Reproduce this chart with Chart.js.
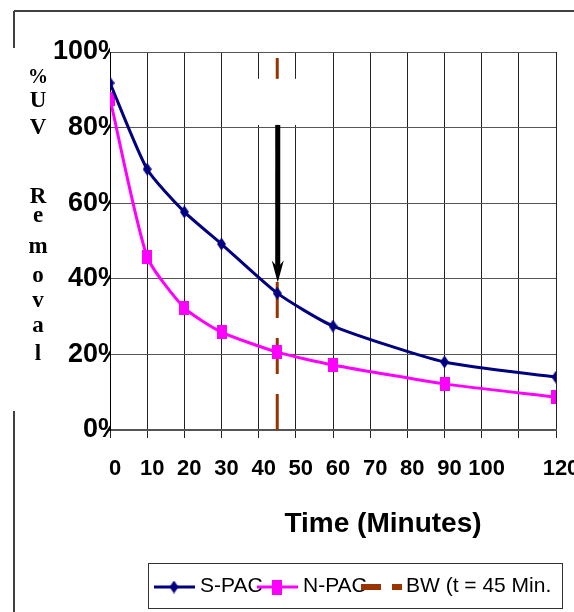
<!DOCTYPE html>
<html>
<head>
<meta charset="utf-8">
<script src="https://cdn.jsdelivr.net/npm/chart.js@4"></script>
<style>
  html, body { margin: 0; padding: 0; background: #fff; }
  canvas { display: block; }
</style>
</head>
<body>
<canvas id="chart" width="574" height="612"></canvas>
<script>
// values
const times = [0, 10, 20, 30, 45, 60, 90, 120];
const sPac = [91.8, 69.0, 57.7, 49.2, 36.2, 27.5, 18.0, 14.0];
const nPac = [87.6, 45.8, 32.3, 25.9, 20.6, 17.2, 12.2, 8.7];
const bwTime = 45;
const seriesNames = ['S-PAC', 'N-PAC', 'BW (t = 45 Min.'];
const xTickLabels = ['0', '10', '20', '30', '40', '50', '60', '70', '80', '90', '100', '', '120'];
const yTickLabels = ['0%', '20%', '40%', '60%', '80%', '100%'];
const xTitle = 'Time (Minutes)';
const yTitleLetters = ['%', 'U', 'V', 'R', 'e', 'm', 'o', 'v', 'a', 'l'];

const NAVY = '#000080', MAGENTA = '#ff00ff', BROWN = '#993300';
const SANS = '"Liberation Sans", Arial, sans-serif';
const SERIF = '"Liberation Serif", "Times New Roman", serif';

function marker(shape, w, h, color) {
  const c = document.createElement('canvas');
  c.width = w; c.height = h;
  const g = c.getContext('2d');
  g.fillStyle = color;
  if (shape === 'diamond') {
    g.beginPath();
    g.moveTo(w / 2, 0); g.lineTo(w, h / 2); g.lineTo(w / 2, h); g.lineTo(0, h / 2);
    g.closePath(); g.fill();
  } else {
    g.fillRect(0, 0, w, h);
  }
  return c;
}
const diamond = marker('diamond', 9, 13, NAVY);
const square = marker('square', 10, 14, MAGENTA);

const pairs = (ys) => times.map((t, i) => ({ x: t, y: ys[i] }));

// white label box + arrow pointing down at t = 45 (data units)
const noteBox = { x0: 39.8, x1: 50.3, y0: 80.7, y1: 92.9 };
const arrowTo = 39;

const extras = {
  id: 'extras',
  beforeDraw(chart) {
    const ctx = chart.ctx;
    ctx.save();
    ctx.fillStyle = '#fff';
    ctx.fillRect(0, 0, chart.width, chart.height);
    ctx.strokeStyle = '#404040';
    ctx.lineWidth = 2;
    ctx.beginPath();
    ctx.moveTo(14, 11); ctx.lineTo(574, 11);
    ctx.moveTo(14, 11); ctx.lineTo(14, 48);
    ctx.moveTo(14, 411); ctx.lineTo(14, 612);
    ctx.stroke();
    ctx.restore();
  },
  afterDatasetsDraw(chart) {
    const ctx = chart.ctx, x = chart.scales.x, y = chart.scales.y;
    ctx.save();
    ctx.fillStyle = '#fff';
    const bx0 = x.getPixelForValue(noteBox.x0), bx1 = x.getPixelForValue(noteBox.x1);
    const by0 = y.getPixelForValue(noteBox.y1), by1 = y.getPixelForValue(noteBox.y0);
    ctx.fillRect(bx0, by0, bx1 - bx0, by1 - by0);

    const ax = x.getPixelForValue(bwTime) + 0.5;
    const tip = y.getPixelForValue(arrowTo);
    ctx.fillStyle = '#000';
    ctx.fillRect(ax - 2.5, by1, 5, tip - 15 - by1);
    ctx.beginPath();
    ctx.moveTo(ax, tip);
    ctx.lineTo(ax - 6, tip - 22);
    ctx.lineTo(ax, tip - 15);
    ctx.lineTo(ax + 6, tip - 22);
    ctx.closePath();
    ctx.fill();
    ctx.restore();
  },
  afterDraw(chart) {
    const ctx = chart.ctx;
    ctx.save();
    // y title, stacked letters
    ctx.fillStyle = '#000';
    ctx.textAlign = 'center';
    ctx.textBaseline = 'alphabetic';
    const base = [83, 107, 134, 203, 222, 253, 282, 307, 332, 360];
    yTitleLetters.forEach((ch, i) => {
      ctx.font = (ch === '%' ? 'bold 20px ' : 'bold 23px ') + SERIF;
      ctx.fillText(ch, 38, base[i]);
    });

    // x title
    ctx.font = 'bold 28px ' + SANS;
    ctx.fillText(xTitle, 383, 532);

    // legend
    ctx.fillStyle = '#fff';
    ctx.fillRect(148, 563, 414, 45);
    ctx.strokeStyle = '#333';
    ctx.lineWidth = 1;
    ctx.strokeRect(148.5, 563.5, 414, 45);

    const ly = 587;
    ctx.textAlign = 'left';
    ctx.font = '21px ' + SANS;

    ctx.strokeStyle = NAVY; ctx.lineWidth = 3;
    ctx.beginPath(); ctx.moveTo(154, ly); ctx.lineTo(195, ly); ctx.stroke();
    ctx.drawImage(diamond, 174 - 4.5, ly - 6.5);
    ctx.fillStyle = '#000';
    ctx.fillText(seriesNames[0], 200, 592);

    ctx.strokeStyle = MAGENTA; ctx.lineWidth = 3;
    ctx.beginPath(); ctx.moveTo(257, ly); ctx.lineTo(298, ly); ctx.stroke();
    ctx.fillStyle = MAGENTA;
    ctx.fillRect(272, ly - 7, 10, 15);
    ctx.fillStyle = '#000';
    ctx.fillText(seriesNames[1], 303, 592);

    ctx.fillStyle = BROWN;
    ctx.fillRect(361, ly - 3, 20, 6);
    ctx.fillRect(392, ly - 3, 10, 6);
    ctx.fillStyle = '#000';
    ctx.fillText(seriesNames[2], 406, 592);
    ctx.restore();
  }
};

new Chart(document.getElementById('chart'), {
  type: 'line',
  data: {
    datasets: [
      {
        label: seriesNames[0],
        data: pairs(sPac),
        borderColor: NAVY,
        backgroundColor: NAVY,
        borderWidth: 3,
        tension: 0.2,
        pointStyle: diamond,
        pointRadius: 6
      },
      {
        label: seriesNames[1],
        data: pairs(nPac),
        borderColor: MAGENTA,
        backgroundColor: MAGENTA,
        borderWidth: 3,
        tension: 0.2,
        pointStyle: square,
        pointRadius: 6
      },
      {
        label: seriesNames[2],
        data: [{ x: bwTime, y: 0 }, { x: bwTime, y: 100 }],
        borderColor: BROWN,
        borderWidth: 3,
        borderDash: [36, 20],
        pointRadius: 0
      }
    ]
  },
  options: {
    responsive: false,
    animation: false,
    events: [],
    layout: { padding: { top: 52, right: 18, left: 0, bottom: 0 } },
    plugins: {
      legend: { display: false },
      tooltip: { enabled: false }
    },
    scales: {
      x: {
        type: 'linear',
        min: 0,
        max: 120,
        ticks: {
          stepSize: 10,
          autoSkip: false,
          maxRotation: 0,
          padding: 18,
          labelOffset: 5,
          color: '#000',
          font: { family: SANS, size: 22, weight: 'bold' },
          callback: (v) => xTickLabels[Math.round(v / 10)] ?? ''
        },
        grid: { color: '#222', lineWidth: 1, drawTicks: true, tickLength: 8, tickColor: '#222' },
        border: { color: '#555', width: 2 },
        afterFit(s) { s.height = 182; s.paddingLeft = 0; s.paddingRight = 0; }
      },
      y: {
        min: 0,
        max: 100,
        ticks: {
          stepSize: 20,
          padding: -12,
          color: '#000',
          font: { family: SANS, size: 27, weight: 'bold' },
          callback: (v) => yTickLabels[Math.round(v / 20)] ?? ''
        },
        grid: { color: '#555', lineWidth: 1, drawTicks: false },
        border: { color: '#000', width: 1 },
        afterFit(s) { s.width = 110; s.paddingTop = 0; s.paddingBottom = 0; }
      }
    }
  },
  plugins: [extras]
});
</script>
</body>
</html>
